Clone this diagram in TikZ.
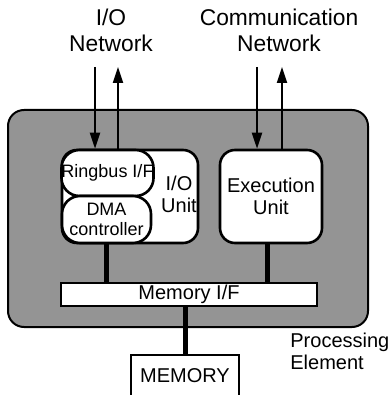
\documentclass[tikz,border=0pt]{standalone}
\usepackage{fontspec}
\setmainfont{Liberation Sans}
\usetikzlibrary{arrows.meta}
\tikzstyle{pebox}=[draw,line width=1pt,fill=black!42,rounded corners=8pt,inner sep=0pt]
\tikzstyle{unitbox}=[draw,line width=1.3pt,fill=white,rounded corners=7.5pt,inner sep=0pt,align=center,font={\fontsize{10}{11}\selectfont}]
\tikzstyle{subbox}=[draw,line width=1.3pt,fill=white,rounded corners=9pt,inner sep=0pt,align=center,font={\fontsize{9}{10}\selectfont}]
\tikzstyle{plainbox}=[draw,line width=1.3pt,fill=white,inner sep=0pt,align=center,font={\fontsize{10}{11}\selectfont}]
\tikzstyle{netlbl}=[align=center,inner sep=0pt,font={\fontsize{11.4}{13}\selectfont}]
\tikzstyle{lbl}=[align=center,inner sep=0pt,font={\fontsize{10}{11}\selectfont}]
\tikzstyle{sig}=[line width=1pt,-{Triangle[width=5pt,length=8pt]}]
\tikzstyle{bus}=[line width=2.5pt]

\begin{document}
\begin{tikzpicture}[x=0.5pt,y=-0.5pt]
    \useasboundingbox (0,0) rectangle (389,395);
    \node[netlbl] (ionet) at (111,30) {I/O\\Network};
    \node[netlbl] (comnet) at (279,30) {Communication\\Network};

    \node[pebox,minimum width=180pt,minimum height=108.5pt] (pe) at (188,218.5) {};
    \node[unitbox,minimum width=68pt,minimum height=46.5pt] (iounit) at (130,196.5) {};
    \node[lbl] (iolbl) at (179,194) {I/O\\Unit};
    \node[subbox,minimum width=45.5pt,minimum height=23pt] (ringbus) at (107.5,173) {Ringbus I/F};
    \node[subbox,minimum width=44.5pt,minimum height=23.5pt] (dma) at (106.5,219.5) {DMA\\controller};
    \node[unitbox,minimum width=51pt,minimum height=46.5pt] (exec) at (271,196.5) {Execution\\Unit};
    \node[plainbox,minimum width=128pt,minimum height=11.5pt] (memif) at (189,294.5) {Memory I/F};
    \node[plainbox,minimum width=54pt,minimum height=25pt,text depth=0pt] (memory) at (185,380) {\raisebox{4pt}{MEMORY}};
    \node[lbl,anchor=west,align=left] (pelbl) at (290,351) {Processing\\Element};

    \coordinate (ioin) at (95,67);
    \coordinate (ioout) at (118,67);
    \coordinate (comin) at (257,67);
    \coordinate (comout) at (282,67);

    \foreach \from/\to in {ioin/ringbus,comin/exec}
    \draw[sig] (\from) -- (\from |- \to.north);
    \foreach \to/\from in {ioout/ringbus,comout/exec}
    \draw[sig] (\to |- \from.north) -- (\to);

    \draw[bus] (dma.south) -- (dma.south |- memif.north);
    \draw[bus] ([xshift=-2pt]exec.south) -- ([xshift=-2pt]exec.south |- memif.north);
    \draw[bus] (memory.north) -- (memory.north |- memif.south);
\end{tikzpicture}
\end{document}
